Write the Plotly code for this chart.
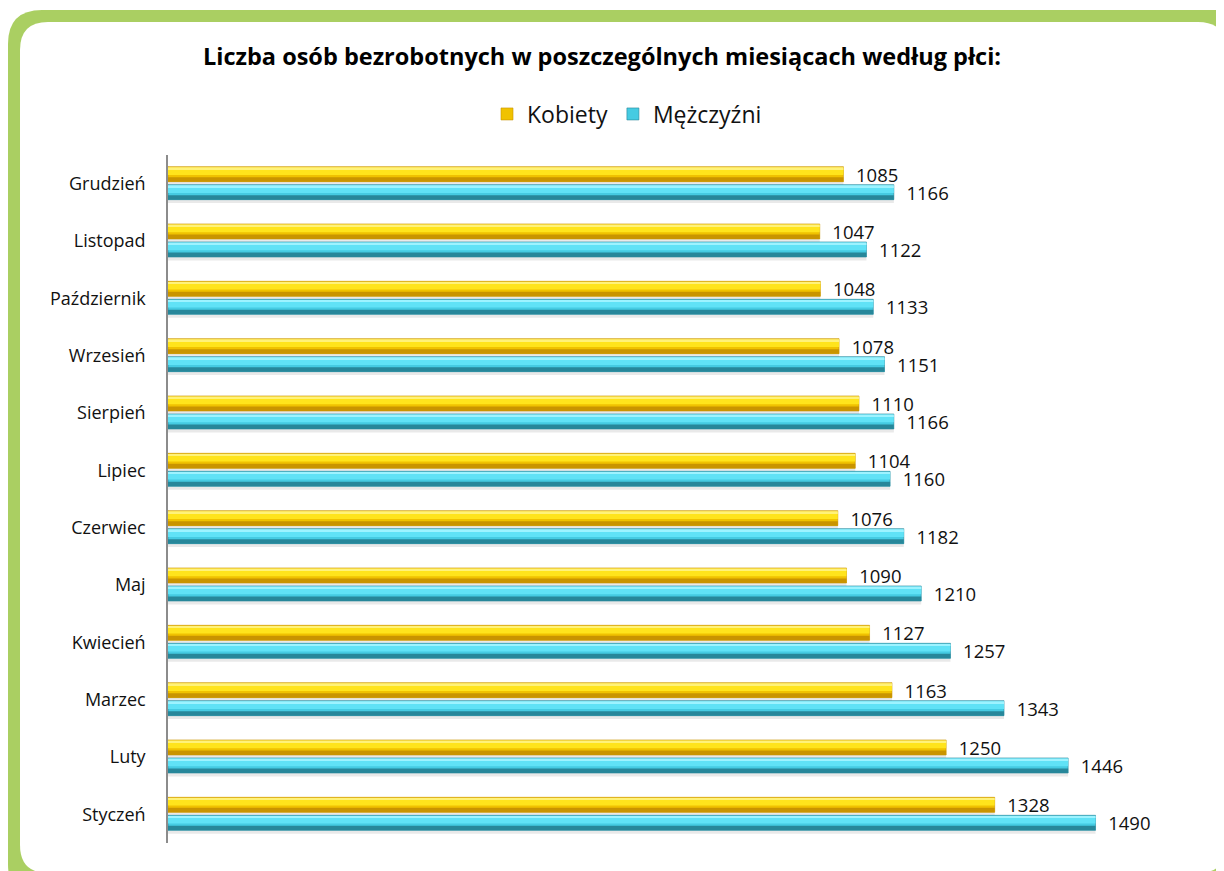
import plotly.graph_objects as go

# data (January -> December, first month drawn at the bottom)
months = ["Styczeń", "Luty", "Marzec", "Kwiecień", "Maj", "Czerwiec",
          "Lipiec", "Sierpień", "Wrzesień", "Październik", "Listopad", "Grudzień"]
kobiety = [1328, 1250, 1163, 1127, 1090, 1076, 1104, 1110, 1078, 1048, 1047, 1085]
mezczyzni = [1490, 1446, 1343, 1257, 1210, 1182, 1160, 1166, 1151, 1133, 1122, 1166]

TITLE = "Liczba osób bezrobotnych w poszczególnych miesiącach według płci:"
FONT = "'Open Sans', Lato, sans-serif"

# figure size (page body keeps an 8px margin) and plot area in pixels
W, H = 1216, 863
ML, MR, MT, MB = 160, 60, 147, 28
PW, PH = W - ML - MR, H - MT - MB

BAR_W = 0.262
# (name, values, offset, base, dark, light, top line)
series = [
    ("Kobiety", kobiety, 0.035, "#F0C200", "#C99400", "#FFE41C", "#FFF27A"),
    ("Mężczyźni", mezczyzni, -0.279, "#45CBE2", "#27879A", "#60E2F6", "#9DF3FF"),
]


def px_to_paper(x, y):
    return (x - ML) / PW, (MT + PH - y) / PH


def rounded_rect(x0, y0, x1, y1, r):
    def p(x, y):
        a, b = px_to_paper(x, y)
        return f"{a:.5f},{b:.5f}"
    pts = [
        "M" + p(x0 + r, y0),
        "L" + p(x1 - r, y0),
        "Q" + p(x1, y0) + " " + p(x1, y0 + r),
        "L" + p(x1, y1 - r),
        "Q" + p(x1, y1) + " " + p(x1 - r, y1),
        "L" + p(x0 + r, y1),
        "Q" + p(x0, y1) + " " + p(x0, y1 - r),
        "L" + p(x0, y0 + r),
        "Q" + p(x0, y0) + " " + p(x0 + r, y0),
    ]
    return " ".join(pts) + " Z"


fig = go.Figure()

for name, vals, off, base, dark, light, top in series:
    # soft shadow under the bar
    fig.add_trace(go.Bar(
        y=months, x=vals, orientation="h", width=BAR_W * 0.3, offset=off - 0.06,
        marker=dict(color="rgba(120,120,120,0.16)", line_width=0),
        showlegend=False, hoverinfo="skip"))
    # main bar (legend + labels)
    fig.add_trace(go.Bar(
        y=months, x=vals, orientation="h", name=name, width=BAR_W, offset=off,
        marker=dict(color=base, line=dict(color=dark, width=0.6)),
        texttemplate="\u00a0\u00a0%{x}", textposition="outside", constraintext="none",
        cliponaxis=False, textfont=dict(size=18.5, color="#111111", family=FONT),
        hovertemplate="%{y}: %{x}<extra>" + name + "</extra>"))
    # darker lower strip
    fig.add_trace(go.Bar(
        y=months, x=vals, orientation="h", width=BAR_W * 0.3, offset=off,
        marker=dict(color=dark, line_width=0),
        showlegend=False, hoverinfo="skip"))
    # bright upper part
    fig.add_trace(go.Bar(
        y=months, x=vals, orientation="h", width=BAR_W * 0.45, offset=off + BAR_W * 0.45,
        marker=dict(color=light, line_width=0),
        showlegend=False, hoverinfo="skip"))
    # pale top edge
    fig.add_trace(go.Bar(
        y=months, x=vals, orientation="h", width=BAR_W * 0.12, offset=off + BAR_W * 0.84,
        marker=dict(color=top, line_width=0),
        showlegend=False, hoverinfo="skip"))

fig.update_layout(
    width=W, height=H,
    barmode="overlay",
    paper_bgcolor="white",
    plot_bgcolor="rgba(0,0,0,0)",
    margin=dict(l=ML, r=MR, t=MT, b=MB),
    font=dict(family=FONT, color="#111111"),
    title=dict(text="<b>" + TITLE + "</b>", x=594 / W, xref="container", xanchor="center",
               y=1 - 49 / H, yref="container", yanchor="middle",
               font=dict(size=23.5, color="#000000", family=FONT)),
    legend=dict(orientation="h", x=619 / W, xref="container", xanchor="center",
                y=1 - 106 / H, yref="container", yanchor="middle",
                font=dict(size=23, color="#111111"), traceorder="normal",
                bgcolor="rgba(0,0,0,0)"),
    xaxis=dict(range=[0, 1600], showgrid=False, zeroline=False, showline=False,
               showticklabels=False, fixedrange=True),
    yaxis=dict(categoryorder="array", categoryarray=months, showgrid=False,
               showline=True, linecolor="#8C8C8C", linewidth=1.5, ticks="",
               ticklabelstandoff=17, tickfont=dict(size=18, color="#111111")),
    shapes=[
        dict(type="path", xref="paper", yref="paper", layer="below",
             path=rounded_rect(0, 2, 1245, 890, 34), fillcolor="#AACF62", line_width=0),
        dict(type="path", xref="paper", yref="paper", layer="below",
             path=rounded_rect(12, 14, 1218, 865, 28), fillcolor="white", line_width=0),
    ],
)

fig.write_html("out.html")
